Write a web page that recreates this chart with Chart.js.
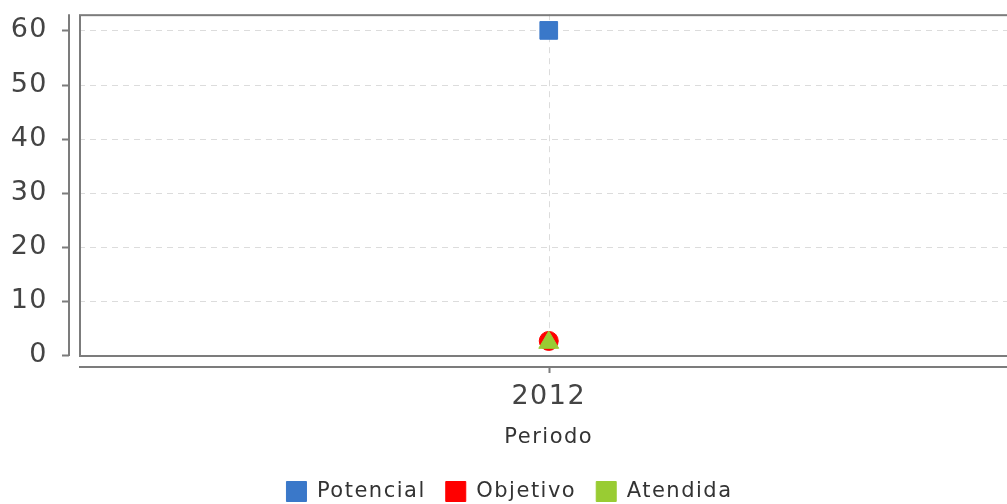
<!DOCTYPE html>
<html>
<head>
<meta charset="utf-8">
<script src="https://cdn.jsdelivr.net/npm/chart.js@4"></script>
<style>
  html, body { margin: 0; padding: 0; background: #fff; overflow: hidden; }
  #wrap { width: 1007px; height: 504px; overflow: hidden; }
</style>
</head>
<body>
<div id="wrap"><canvas id="chart" width="1032" height="504"></canvas></div>
<script>
const periods = ['2012']
const potencial = [60]
const objetivo = [2.6]
const atendida = [2.3]
const yTicks = [0, 10, 20, 30, 40, 50, 60]

const axisColor = '#7c7c7c'
const gridColor = '#dcdcdc'

// the original spaces its letters out a little; resizing the canvas resets it
const setSpacing = (chart) => { chart.ctx.letterSpacing = '1.5px' }
const spacingPlugin = {
  id: 'spacing',
  beforeUpdate: setSpacing,
  beforeLayout: setSpacing,
  beforeDraw: setSpacing
}

// frame, dashed grid and the detached axis lines, like the original
const framePlugin = {
  id: 'frame',
  beforeDatasetsDraw(chart) {
    const { ctx, chartArea: a, scales } = chart
    ctx.save()
    ctx.strokeStyle = gridColor
    ctx.lineWidth = 1
    ctx.setLineDash([6, 5])
    ctx.beginPath()
    yTicks.forEach(v => {
      if (v === 0) return
      const py = Math.round(scales.y.getPixelForValue(v)) + 0.5
      ctx.moveTo(a.left, py)
      ctx.lineTo(a.right, py)
    })
    periods.forEach((p, i) => {
      const px = Math.round(scales.x.getPixelForValue(i)) + 0.5
      ctx.moveTo(px, a.top)
      ctx.lineTo(px, a.bottom)
    })
    ctx.stroke()
    ctx.setLineDash([])

    ctx.strokeStyle = axisColor
    ctx.lineWidth = 2
    ctx.strokeRect(a.left + 1, a.top + 1, a.right - a.left, a.bottom - a.top)

    const yx = a.left - 10
    ctx.beginPath()
    ctx.moveTo(yx, a.top)
    ctx.lineTo(yx, a.bottom + 1)
    yTicks.forEach(v => {
      const py = Math.round(scales.y.getPixelForValue(v)) + 0.5
      ctx.moveTo(yx - 7, py)
      ctx.lineTo(yx, py)
    })
    const xy = a.bottom + 12
    ctx.moveTo(a.left, xy)
    ctx.lineTo(a.right, xy)
    periods.forEach((p, i) => {
      const px = Math.round(scales.x.getPixelForValue(i)) + 0.5
      ctx.moveTo(px, xy)
      ctx.lineTo(px, xy + 6)
    })
    ctx.stroke()
    ctx.restore()
  }
}

new Chart(document.getElementById('chart'), {
  type: 'line',
  data: {
    labels: periods,
    datasets: [
      { label: 'Potencial', data: potencial, showLine: false, pointStyle: 'rect', pointRadius: 12.5,
        backgroundColor: '#3a78c9', borderColor: '#3a78c9', borderWidth: 1, order: 1 },
      { label: 'Objetivo', data: objetivo, showLine: false, pointStyle: 'circle', pointRadius: 9.5,
        backgroundColor: '#ff0000', borderColor: '#ff0000', borderWidth: 1, order: 3 },
      { label: 'Atendida', data: atendida, showLine: false, pointStyle: 'triangle', pointRadius: 11.5,
        backgroundColor: '#99cc33', borderColor: '#99cc33', borderWidth: 1, order: 2 }
    ]
  },
  options: {
    responsive: false,
    animation: { duration: 0 },
    layout: { padding: { top: 0, right: 13, left: 0, bottom: -8 } },
    scales: {
      x: {
        offset: true,
        border: { display: false },
        grid: { display: false, drawTicks: false },
        ticks: { padding: 28, color: '#444', font: { family: 'DejaVu Sans', size: 27, lineHeight: 1.05 } },
        title: { display: true, text: 'Periodo', color: '#333', padding: { top: 10, bottom: 11 },
          font: { family: 'DejaVu Sans', size: 21 } },
        afterFit: (s) => { s.height = 106 }
      },
      y: {
        min: 0,
        max: 63,
        border: { display: false },
        grid: { display: false, drawTicks: true, tickLength: 31 },
        ticks: { stepSize: 10, includeBounds: false, padding: 0, color: '#444',
          font: { family: 'DejaVu Sans', size: 27, lineHeight: 1.05 } },
        afterFit: (s) => { s.width = 79 }
      }
    },
    plugins: {
      legend: {
        position: 'bottom',
        labels: {
          sort: (a, b) => a.datasetIndex - b.datasetIndex,
          boxWidth: 20, boxHeight: 20, padding: 20, color: '#333',
          font: { family: 'DejaVu Sans', size: 21 }
        }
      },
      tooltip: { enabled: false }
    }
  },
  plugins: [spacingPlugin, framePlugin]
})
</script>
</body>
</html>
